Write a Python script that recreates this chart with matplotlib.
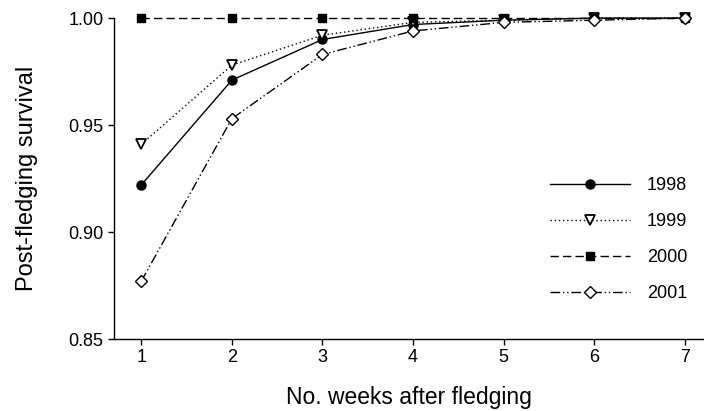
import matplotlib
matplotlib.use("Agg")
import matplotlib.pyplot as plt

plt.rcParams['font.family'] = ['Liberation Sans', 'DejaVu Sans']

weeks = [1, 2, 3, 4, 5, 6, 7]
s1998 = [0.922, 0.971, 0.990, 0.997, 0.999, 1.000, 1.000]
s1999 = [0.941, 0.978, 0.992, 0.998, 0.999, 1.000, 1.000]
s2000 = [1.000, 1.000, 1.000, 1.000, 1.000, 1.000, 1.000]
s2001 = [0.877, 0.953, 0.983, 0.994, 0.998, 0.999, 1.000]
yticks = [0.85, 0.90, 0.95, 1.00]

fig = plt.figure(figsize=(7.04, 4.11), dpi=100)
ax = fig.add_axes([0.162, 0.175, 0.838, 0.781])

ax.plot(weeks, s1998, color='black', lw=1.0, ls='-', marker='o', ms=6.5,
        mfc='black', mec='black', label='1998', clip_on=False, zorder=3)
ax.plot(weeks, s1999, color='black', lw=1.0, ls=(0, (1, 2)), marker='v', ms=7,
        mfc='white', mec='black', mew=1.3, label='1999', clip_on=False, zorder=3)
ax.plot(weeks, s2000, color='black', lw=1.0, ls=(0, (6, 3)), marker='s', ms=5.5,
        mfc='black', mec='black', label='2000', clip_on=False, zorder=3)
ax.plot(weeks, s2001, color='black', lw=1.0, ls=(0, (7, 2, 1, 2, 1, 2)), marker='D', ms=6,
        mfc='white', mec='black', mew=1.0, label='2001', clip_on=False, zorder=3)

ax.set_xlim(0.70, 7.21)
ax.set_ylim(0.85, 1.00)
ax.set_xticks(weeks)
ax.set_yticks(yticks)
ax.set_yticklabels([f'{v:.2f}' for v in yticks])
for s in ['top', 'right']:
    ax.spines[s].set_visible(False)
for s in ['left', 'bottom']:
    ax.spines[s].set_linewidth(1.0)
ax.tick_params(direction='out', length=4.5, width=1.0, labelsize=13)
ax.tick_params(axis='x', pad=3)
ax.tick_params(axis='y', pad=3)

ax.set_xlabel('No. weeks after fledging', fontsize=16.5, labelpad=14)
ax.set_ylabel('Post-fledging survival', fontsize=17, labelpad=22)

leg = ax.legend(loc='center left', bbox_to_anchor=(0.712, 0.31), frameon=False,
                fontsize=13, handlelength=4.4, labelspacing=1.05, handletextpad=0.95)

fig.savefig('out.png', dpi=100)
